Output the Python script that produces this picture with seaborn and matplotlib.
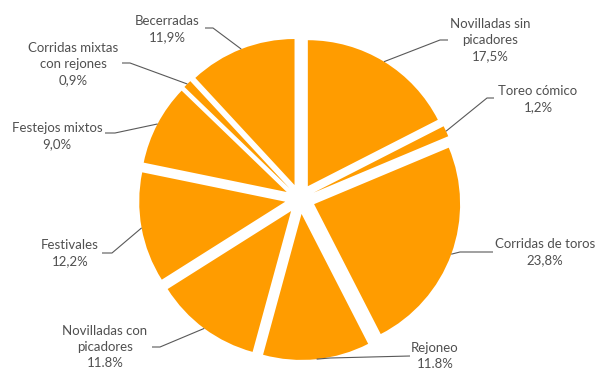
import numpy as np
import matplotlib
matplotlib.use("Agg")
import matplotlib.pyplot as plt
import seaborn as sns

# ---- data ----
categories = ["Novilladas sin\npicadores", "Toreo cómico", "Corridas de toros", "Rejoneo",
              "Novilladas con\npicadores", "Festivales", "Festejos mixtos",
              "Corridas mixtas\ncon rejones", "Becerradas"]
shares = [17.5, 1.2, 23.8, 11.8, 11.8, 12.2, 9.0, 0.9, 11.9]
pct_labels = ["17,5%", "1,2%", "23,8%", "11.8%", "11.8%", "12,2%", "9,0%", "0,9%", "11,9%"]

# ---- layout (pixel coords, origin top-left) ----
W, H = 600, 370
text_pos = [(490, 40), (538, 99), (545, 252), (435, 356), (105, 347),
            (70, 253), (57, 136), (73, 64), (167, 29)]
knee_pos = [(440, 40), (487, 98), (460, 252), (330, 358), (160, 347),
            (112, 253), (115, 133), (130, 63), (213, 28)]
end_pos = [(448, 40), (494, 98), (493, 252), (410, 356), (152, 347),
           (102, 253), (105, 133), (122, 63), (205, 28)]

sns.set_theme(style="white")
plt.rcParams['font.family'] = ['Lato', 'DejaVu Sans']

fig = plt.figure(figsize=(6, 3.7), dpi=100)
ax = fig.add_axes([0, 0, 1, 1])

orange = "#FF9C00"
wedges, _ = ax.pie(shares, startangle=90, counterclock=False, radius=146,
                   center=(300, H - 199), explode=[15] * len(shares),
                   colors=[orange] * len(shares), wedgeprops=dict(linewidth=0))
ax.set_xlim(0, W)
ax.set_ylim(0, H)
ax.set_aspect('equal')
ax.axis('off')

line_col = "#595959"
text_col = "#505050"
for w, cat, pct, tp, kp, ep in zip(wedges, categories, pct_labels, text_pos, knee_pos, end_pos):
    mid = np.deg2rad(0.5 * (w.theta1 + w.theta2))
    cx, cy = w.center
    ex = cx + w.r * np.cos(mid)
    ey = cy + w.r * np.sin(mid)
    xs = [ex, kp[0], ep[0]]
    ys = [ey, H - kp[1], H - ep[1]]
    ax.plot(xs, ys, color=line_col, lw=0.8, solid_capstyle='butt')
    ax.text(tp[0], H - tp[1], f"{cat}\n{pct}", ha='center', va='center',
            fontsize=9.5, color=text_col, linespacing=1.4)

fig.savefig("out.png", dpi=100)
